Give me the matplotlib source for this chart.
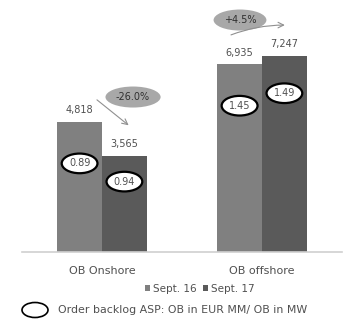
import matplotlib
matplotlib.use("Agg")
import matplotlib.pyplot as plt
from matplotlib.patches import Rectangle, Ellipse

categories = ["OB Onshore", "OB offshore"]
series_names = ["Sept. 16", "Sept. 17"]
ob_sept16 = [4818, 6935]
ob_sept17 = [3565, 7247]
asp_sept16 = [0.89, 1.45]
asp_sept17 = [0.94, 1.49]
growth_labels = ["-26.0%", "+4.5%"]
footnote = "Order backlog ASP: OB in EUR MM/ OB in MW"

c16 = "#808080"
c17 = "#5a5a5a"
txt = "#505050"

fig = plt.figure(figsize=(3.5, 3.2), dpi=100)
W, H = 350, 320
ax_left, ax_right, ax_bottom = 22, 342, 252
ymax = 9000
ax_h = 196 * ymax / 7247
ax = fig.add_axes([ax_left / W, (H - ax_bottom) / H, (ax_right - ax_left) / W, ax_h / H])
ax.set_xlim(-0.5, 1.5)
ax.set_ylim(0, ymax)

x = [0, 1]
w = 0.28
off = 0.14
b1 = ax.bar([i - off for i in x], ob_sept16, width=w, color=c16, label=series_names[0])
b2 = ax.bar([i + off for i in x], ob_sept17, width=w, color=c17, label=series_names[1])

for bars, vals in ((b1, ob_sept16), (b2, ob_sept17)):
    for r, v in zip(bars, vals):
        ax.text(r.get_x() + r.get_width() / 2, v + 250, f"{v:,}", ha="center", va="bottom",
                fontsize=7, color=txt)

# ASP ellipse labels
asp_frac16 = [0.68, 0.78]
asp_frac17 = [0.73, 0.81]
for bars, vals, fr in ((b1, asp_sept16, asp_frac16), (b2, asp_sept17, asp_frac17)):
    for r, v, f in zip(bars, vals, fr):
        ax.text(r.get_x() + r.get_width() / 2, r.get_height() * f, f"{v:.2f}", ha="center",
                va="center", fontsize=7, color=txt,
                bbox=dict(boxstyle="ellipse,pad=0.2", fc="white", ec="black", lw=1.6))

# growth annotations
ax.text(0.194, 5730, growth_labels[0], ha="center", va="center", fontsize=7, color="#303030",
        bbox=dict(boxstyle="ellipse,pad=0.25", fc="#a8a8a8", ec="none"))
ax.annotate("", xy=(0.18, 4620), xytext=(-0.045, 5690),
            arrowprops=dict(arrowstyle="->", color="#909090", lw=0.8))
ax.text(0.8625, 8577, growth_labels[1], ha="center", va="center", fontsize=7, color="#303030",
        bbox=dict(boxstyle="ellipse,pad=0.25", fc="#a8a8a8", ec="none"))
ax.annotate("", xy=(1.16, 8390), xytext=(0.79, 7990),
            arrowprops=dict(arrowstyle="->", color="#909090", lw=0.8,
                            connectionstyle="arc3,rad=-0.1"))

for s in ("top", "right", "left"):
    ax.spines[s].set_visible(False)
ax.spines["bottom"].set_color("#d0d0d0")
ax.spines["bottom"].set_linewidth(1.2)
ax.set_yticks([])
ax.set_xticks(x)
ax.set_xticklabels(categories, fontsize=8, color=txt)
ax.tick_params(axis="x", length=0, pad=10)

fig.legend(handles=[b1, b2], labels=series_names, loc="center", bbox_to_anchor=(200 / W, 1 - 289 / H),
           ncol=2, frameon=False, fontsize=7.5, handlelength=0.5, handleheight=0.5,
           handletextpad=0.3, columnspacing=0.6, labelcolor=txt)

fig.patches.append(Ellipse((35 / W, 1 - 310 / H), 26 / W, 15 / H, transform=fig.transFigure,
                           fc="white", ec="black", lw=1.2))
fig.text(58 / W, 1 - 310 / H, footnote, ha="left", va="center", fontsize=7.9, color=txt)

fig.savefig("out.png", dpi=100)
